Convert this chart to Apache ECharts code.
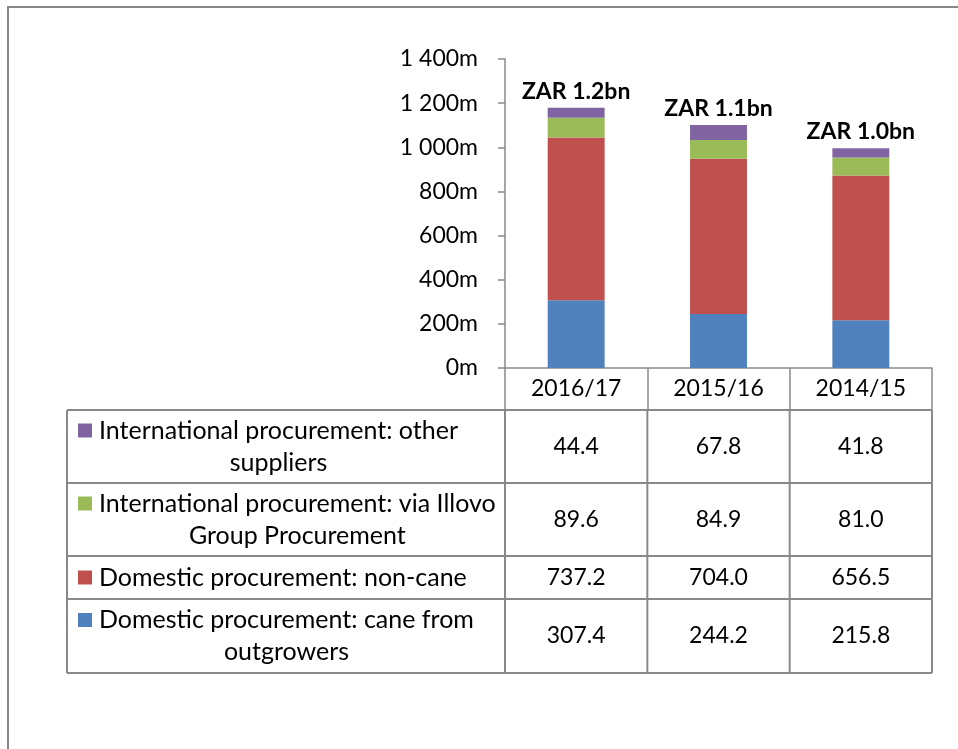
<!DOCTYPE html>
<html>
<head>
<meta charset="utf-8">
<script src="https://cdn.jsdelivr.net/npm/echarts@6/dist/echarts.min.js"></script>
<style>
  html, body { margin: 0; padding: 0; background: #fff; }
  #chart { width: 958px; height: 749px; }
</style>
</head>
<body>
<div id="chart"></div>
<script>
// data
const categories = ['2016/17', '2015/16', '2014/15'];
const caneFromOutgrowers = [307.4, 244.2, 215.8];
const nonCane = [737.2, 704.0, 656.5];
const viaIllovo = [89.6, 84.9, 81.0];
const otherSuppliers = [44.4, 67.8, 41.8];
const totalLabels = ['ZAR 1.2bn', 'ZAR 1.1bn', 'ZAR 1.0bn'];

// table rows, top to bottom (as in the data table)
const tableRows = [
  { name: 'International procurement: other suppliers', lines: ['International procurement: other', 'suppliers'], values: otherSuppliers, color: '#8064A2' },
  { name: 'International procurement: via Illovo Group Procurement', lines: ['International procurement: via Illovo', 'Group Procurement'], values: viaIllovo, color: '#9BBB59' },
  { name: 'Domestic procurement: non-cane', lines: ['Domestic procurement: non-cane'], values: nonCane, color: '#C0504D' },
  { name: 'Domestic procurement: cane from outgrowers', lines: ['Domestic procurement: cane from', 'outgrowers'], values: caneFromOutgrowers, color: '#4F81BD' }
];

const FONT = 'Lato, "Open Sans", sans-serif';
const FS = 23;      // numbers / axis labels
const FS_TXT = 25;  // legend text in the table
const LINE = '#898989';

const chart = echarts.init(document.getElementById('chart'));

function yFmt(v) {
  if (v >= 1000) return Math.floor(v / 1000) + ' ' + String(v % 1000).padStart(3, '0') + 'm';
  return v + 'm';
}

const stackOrder = [tableRows[3], tableRows[2], tableRows[1], tableRows[0]];

const option = {
  animation: false,
  textStyle: { fontFamily: FONT },
  grid: { left: 505, right: 26, top: 59, bottom: 381 },
  xAxis: {
    type: 'category',
    data: categories,
    axisLine: { lineStyle: { color: LINE, width: 1.5 } },
    axisTick: { show: true, interval: 0, length: 42, lineStyle: { color: LINE, width: 1.5 } },
    axisLabel: { color: '#000', fontSize: FS, fontFamily: FONT, margin: 9 }
  },
  yAxis: {
    type: 'value',
    min: 0,
    max: 1400,
    interval: 200,
    axisLine: { show: true, lineStyle: { color: LINE, width: 1.5 } },
    axisTick: { show: true, length: 7, lineStyle: { color: LINE, width: 1.5 } },
    splitLine: { show: false },
    axisLabel: { color: '#000', fontSize: FS, fontFamily: FONT, margin: 27, formatter: yFmt }
  },
  series: stackOrder.map((r, i) => ({
    name: r.name,
    type: 'bar',
    stack: 'total',
    barWidth: '40%',
    data: r.values,
    itemStyle: { color: r.color },
    label: i === stackOrder.length - 1 ? {
      show: true,
      position: 'top',
      distance: 5,
      color: '#000',
      fontWeight: 'bold',
      fontSize: FS,
      fontFamily: FONT,
      formatter: p => totalLabels[p.dataIndex]
    } : { show: false }
  }))
};

chart.setOption(option);

// data table drawn below the axis
const rowY = [410, 483, 556, 599, 673];
const tableLeft = 67;
const centers = categories.map((c, i) => chart.convertToPixel({ xAxisIndex: 0 }, i));
const step = centers[1] - centers[0];
const colEdges = [centers[0] - step / 2].concat(centers.map(c => c + step / 2));
const tableRight = colEdges[colEdges.length - 1];

const measureCtx = document.createElement('canvas').getContext('2d');
measureCtx.font = FS_TXT + 'px ' + FONT;

const g = [];
// outer frame
g.push({ type: 'rect', shape: { x: 8, y: 7, width: 1000, height: 1000 }, style: { fill: 'none', stroke: '#868686', lineWidth: 2 }, silent: true });

// horizontal lines
rowY.forEach(y => {
  g.push({ type: 'line', shape: { x1: tableLeft, y1: y, x2: tableRight, y2: y }, style: { stroke: LINE, lineWidth: 2 } });
});
// vertical lines
[tableLeft].concat(colEdges).forEach(x => {
  g.push({ type: 'line', shape: { x1: x, y1: rowY[0], x2: x, y2: rowY[rowY.length - 1] }, style: { stroke: LINE, lineWidth: 2 } });
});

const lineH = 32;
tableRows.forEach((r, ri) => {
  const top = rowY[ri], bot = rowY[ri + 1];
  const mid = (top + bot) / 2;
  const n = r.lines.length;
  const textX = 99;
  const w0 = measureCtx.measureText(r.lines[0]).width;
  const cx = textX + w0 / 2;
  r.lines.forEach((ln, li) => {
    const y = mid + (li - (n - 1) / 2) * lineH;
    g.push({ type: 'text', x: cx, y: y, style: { text: ln, fill: '#000', font: FS_TXT + 'px ' + FONT, align: 'center', verticalAlign: 'middle' } });
    if (li === 0) {
      g.push({ type: 'rect', shape: { x: 78, y: y - 7, width: 14, height: 14 }, style: { fill: r.color } });
    }
  });
  r.values.forEach((v, ci) => {
    g.push({ type: 'text', x: centers[ci], y: mid, style: { text: v.toFixed(1), fill: '#000', font: FS + 'px ' + FONT, align: 'center', verticalAlign: 'middle' } });
  });
});

chart.setOption({ graphic: { elements: g } });
</script>
</body>
</html>
